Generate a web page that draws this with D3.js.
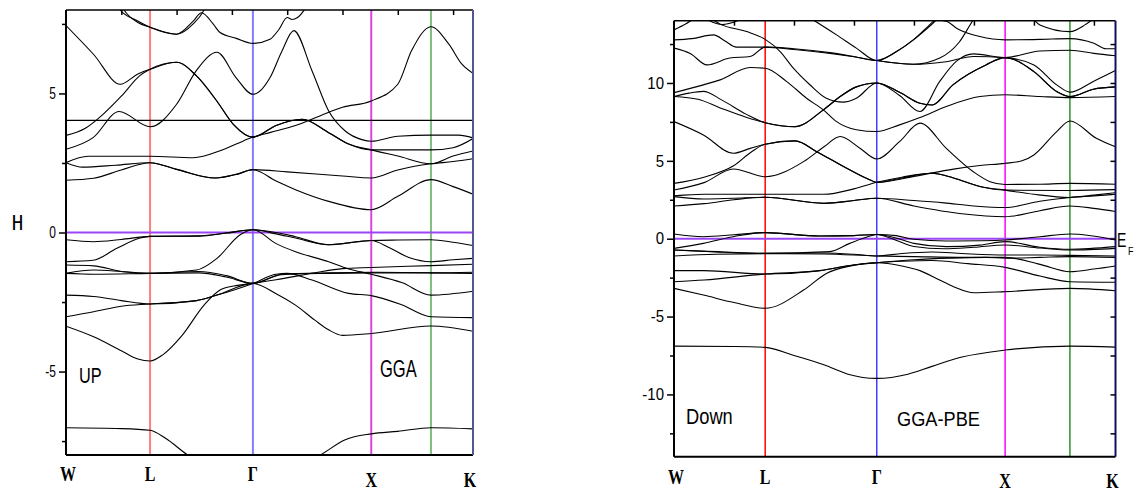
<!DOCTYPE html>
<html>
<head>
<meta charset="utf-8">
<script src="https://cdn.jsdelivr.net/npm/d3@7"></script>
<style>
body { margin: 0; background: #fff; }
svg { display: block; }
</style>
</head>
<body>
<svg id="chart" width="1147" height="493"></svg>
<script>
// k path: W - L - Gamma - X - (K') - K
var kMax = 7.36;
var kTicks = [1, 2, 3, 4, 5, 6, 7];
var symK = [0, 1.52, 3.38, 5.52, 6.6, 7.36];
var symLabels = ["W", "L", "\u0393", "X", "", "K"];

var upMajor = [-5, 0, 5];
var upMinor = [-7.5, -2.5, 2.5, 7.5];
var downMajor = [-10, -5, 0, 5, 10];
var downMinor = [-12.5, -7.5, -2.5, 2.5, 7.5, 12.5];

// spin up bands, [k, E]
var upBands = [
  [[0.8,8.6],[0.98,8.0],[1.28,7.62],[1.52,7.38],[2.0,7.13],[2.3,7.5],[2.48,7.95],[2.6,8.5]],
  [[0.9,8.6],[1.05,8.0],[1.3,7.55],[1.52,7.38],[2.0,7.13],[2.3,7.6],[2.45,7.9],[2.66,7.5],[2.78,7.2],[3.08,6.98],[3.38,6.80],[3.69,6.95],[3.85,7.3],[4.0,7.73],[4.09,7.66],[4.18,7.72],[4.3,7.98],[4.45,8.5]],
  [[0,7.44],[0.5,6.4],[0.98,5.33],[1.3,5.7],[1.52,5.87],[2.0,6.12],[2.36,5.63],[2.73,4.72],[3.03,3.88],[3.38,3.43],[3.8,3.85],[4.27,4.07],[4.75,3.59],[5.11,3.18],[5.52,2.97],[6.0,2.97],[6.6,2.97],[7.0,3.05],[7.36,3.38]],
  [[0,3.49],[0.35,3.75],[0.67,4.25],[1.0,4.9],[1.34,5.65],[1.52,5.87],[2.0,6.12],[2.36,5.63],[2.73,4.72],[3.03,3.88],[3.38,3.43],[3.8,3.85],[4.27,4.07],[4.75,3.59],[5.11,3.18],[5.52,2.97],[6.0,2.75],[6.6,2.47],[7.0,2.75],[7.36,2.93]],
  [[0,2.99],[0.49,3.41],[0.96,4.35],[1.52,3.80],[2.0,4.61],[2.36,5.83],[2.73,6.48],[3.07,5.58],[3.38,4.97],[3.54,5.15],[3.69,5.57],[3.9,6.5],[4.12,7.26],[4.45,5.81],[4.75,4.37],[5.05,3.65],[5.35,3.34],[5.52,3.28],[6.0,3.46],[6.6,3.50],[7.1,3.5],[7.36,3.40]],
  [[0,2.51],[0.4,2.74],[1.52,2.74],[2.3,2.69],[2.8,2.95],[3.1,3.2],[3.38,3.43],[3.7,3.6],[4.15,3.85],[4.6,4.2],[5.0,4.5],[5.52,4.73],[6.0,5.33],[6.25,6.54],[6.6,7.40],[6.92,6.78],[7.16,6.05],[7.36,5.72]],
  [[0,2.51],[0.3,2.35],[0.9,2.42],[1.52,2.51],[2.0,2.27],[2.7,1.96],[3.1,2.1],[3.38,2.26],[4.0,2.18],[5.0,2.03],[5.52,1.96],[6.0,2.25],[6.6,2.47],[7.0,2.55],[7.36,2.65]],
  [[0,1.88],[0.5,1.95],[1.0,2.25],[1.52,2.51],[2.0,2.27],[2.7,1.96],[3.1,2.1],[3.38,2.26],[3.8,1.85],[4.15,1.54],[4.75,1.12],[5.52,0.82],[6.0,1.3],[6.6,1.90],[7.0,1.65],[7.36,1.38]],
  [[0,4.03],[7.36,4.03]],
  [[0,-0.26],[0.5,-0.33],[1.0,-0.25],[1.52,-0.14],[2.4,-0.13],[2.9,-0.02],[3.38,0.10],[3.8,0.0],[4.15,-0.15],[4.75,-0.44],[5.2,-0.35],[5.52,-0.29],[6.0,-0.27],[6.6,-0.26],[7.0,-0.35],[7.36,-0.47]],
  [[0,-1.05],[0.49,-1.0],[0.92,-0.57],[1.34,-0.2],[1.52,-0.14],[2.4,-0.12],[2.9,-0.02],[3.38,0.10],[3.8,-0.05],[4.15,-0.2],[4.75,-0.44],[5.52,-0.29],[5.85,-0.55],[6.2,-0.9],[6.6,-1.05],[7.0,-0.98],[7.36,-0.93]],
  [[0,-1.17],[0.5,-1.2],[1.0,-1.4],[1.52,-1.47],[2.36,-1.35],[2.73,-0.93],[3.15,-0.08],[3.38,0.10],[3.8,-0.4],[4.15,-0.69],[4.75,-1.05],[5.1,-1.3],[5.52,-1.5],[6.07,-1.8],[6.6,-2.25],[7.36,-2.11]],
  [[0,-1.47],[0.5,-1.35],[1.0,-1.4],[1.52,-1.47],[2.4,-1.4],[2.9,-1.55],[3.38,-1.83],[3.9,-1.5],[4.75,-1.45],[5.52,-1.43],[6.6,-1.45],[7.36,-1.47]],
  [[0,-1.47],[0.5,-1.5],[1.52,-1.47],[2.4,-1.45],[2.9,-1.6],[3.38,-1.83],[3.9,-1.52],[4.75,-1.47],[5.52,-1.45],[6.6,-1.45],[7.36,-1.43]],
  [[0,-2.25],[0.5,-2.3],[1.0,-2.45],[1.52,-2.57],[2.36,-2.45],[2.73,-2.25],[3.38,-1.83],[3.8,-1.5],[4.0,-1.47],[4.45,-1.71],[5.11,-2.19],[5.52,-2.27],[6.07,-2.6],[6.6,-3.03],[7.36,-3.06]],
  [[0,-3.03],[0.5,-2.85],[1.0,-2.65],[1.52,-2.57],[2.36,-2.45],[2.73,-2.25],[3.38,-1.83],[3.8,-2.2],[4.15,-2.61],[4.5,-3.15],[4.75,-3.5],[5.0,-3.7],[5.52,-3.63],[6.6,-3.36],[7.36,-3.55]],
  [[0,-3.37],[0.5,-3.75],[1.0,-4.25],[1.3,-4.55],[1.52,-4.62],[1.75,-4.4],[2.1,-3.7],[2.5,-2.6],[2.8,-2.05],[3.1,-1.9],[3.38,-1.83],[3.8,-1.7],[4.5,-1.45],[5.0,-1.3],[5.52,-1.26],[6.6,-1.19],[7.36,-1.14]],
  [[0,-7.02],[1.0,-7.05],[1.52,-7.11],[1.8,-7.4],[2.2,-8.0],[2.8,-8.6],[3.38,-8.9],[4.0,-8.6],[4.6,-8.0],[5.05,-7.45],[5.52,-7.24],[6.0,-7.15],[6.6,-7.02],[7.36,-7.06]]
];

// spin down bands, [k, E]
var downBands = [
  [[0,13.41],[0.2,13.8],[0.35,14.15],[0.5,14.3],[0.65,14.05],[0.77,13.78],[1.21,13.3],[1.52,12.8],[1.77,12.02],[1.99,10.95],[2.27,9.87],[2.54,9.02],[2.82,8.77],[3.04,9.02],[3.38,10.0],[3.76,9.2],[4.1,8.17],[4.43,10.1],[4.71,11.4],[4.99,11.87],[5.52,11.63],[6.1,12.05],[6.6,12.1],[7.0,11.9],[7.36,11.75]],
  [[0,12.77],[0.3,12.85],[0.66,13.09],[0.85,12.7],[1.04,12.3],[1.52,12.3],[2.0,12.2],[2.6,11.95],[3.0,11.7],[3.38,11.44],[3.71,12.02],[3.99,12.77],[4.38,14.05],[4.6,14.8]],
  [[0,12.24],[0.27,11.9],[0.55,11.16],[0.93,11.6],[1.27,11.7],[1.52,12.3],[2.0,12.15],[2.6,11.9],[3.0,11.68],[3.38,11.44],[3.99,11.2],[4.43,11.6],[4.75,12.6],[4.99,14.05],[5.1,14.6]],
  [[1.9,15.0],[2.32,14.05],[2.71,13.09],[3.04,12.24],[3.38,11.44],[3.71,12.02],[3.99,12.77],[4.2,13.5],[4.38,14.05],[4.55,13.95],[4.71,13.52],[5.1,12.98],[5.52,12.77],[6.1,12.8],[6.6,12.85],[7.0,12.55],[7.2,12.2],[7.36,12.2]],
  [[3.38,11.44],[3.99,11.2],[4.5,11.35],[5.0,11.7],[5.52,11.63],[6.0,11.16],[6.38,9.88],[6.6,9.41],[6.99,10.1],[7.36,10.8]],
  [[0,9.13],[0.4,8.95],[0.77,8.4],[1.2,7.8],[1.52,7.45],[2.02,7.2],[2.49,8.27],[2.77,9.13],[3.04,9.75],[3.38,10.0],[3.76,9.4],[4.1,8.7],[4.3,8.59],[4.65,9.88],[5.2,11.16],[5.52,11.63],[6.0,10.73],[6.38,9.45],[6.6,9.13],[6.99,9.6],[7.36,9.75]],
  [[0,9.13],[0.25,9.35],[0.49,9.46],[0.8,8.9],[1.2,8.0],[1.52,7.45],[2.02,7.2],[2.49,8.27],[2.77,9.13],[3.04,9.75],[3.38,10.0],[3.76,9.4],[4.1,8.7],[4.3,8.59],[4.65,9.88],[5.2,11.16],[5.52,11.63],[6.0,10.73],[6.38,9.45],[6.6,9.13],[6.99,9.6],[7.36,9.75]],
  [[5.7,14.6],[6.0,14.05],[6.1,13.73],[6.6,13.3],[6.85,13.73],[6.97,14.05],[7.2,14.6]],
  [[0.4,14.4],[0.56,14.05],[0.8,13.75],[1.1,14.05],[1.3,14.4]],
  [[0,9.38],[0.49,9.88],[0.77,10.2],[1.27,10.99],[1.52,10.95],[1.88,10.09],[2.21,9.02],[2.49,8.27],[2.71,7.52],[3.04,7.0],[3.38,6.88],[3.76,7.31],[4.1,7.78],[4.54,8.49],[5.1,9.13],[5.52,9.24],[6.1,9.13],[6.6,9.06],[7.36,9.13]],
  [[0,7.52],[0.49,6.66],[0.99,5.49],[1.27,5.8],[1.52,6.07],[2.02,6.28],[2.38,5.59],[2.88,4.52],[3.27,3.77],[3.38,3.62],[3.8,3.9],[4.29,4.2],[4.66,3.9],[5.1,3.35],[5.52,3.12],[6.0,2.85],[6.6,2.65],[7.0,2.8],[7.36,2.95]],
  [[0,3.55],[0.5,3.95],[1.0,4.7],[1.3,5.6],[1.52,6.07],[2.02,6.28],[2.38,5.59],[2.88,4.52],[3.27,3.77],[3.38,3.62],[4.0,4.0],[4.66,4.47],[5.1,4.7],[5.52,4.84],[5.8,5.0],[6.0,5.38],[6.38,6.88],[6.6,7.56],[7.04,6.45],[7.36,5.9]],
  [[0,3.13],[0.5,3.6],[0.99,4.48],[1.52,3.98],[2.16,4.95],[2.5,5.9],[2.77,6.56],[3.1,5.81],[3.38,5.12],[3.76,6.23],[4.1,7.42],[4.54,5.8],[4.99,4.3],[5.27,3.66],[5.52,3.48],[6.1,3.5],[6.6,3.55],[7.36,3.5]],
  [[0,2.75],[0.5,2.85],[1.52,2.85],[2.5,2.85],[3.0,3.2],[3.38,3.62],[3.8,3.95],[4.29,4.2],[4.66,3.9],[5.1,3.35],[5.52,3.12],[6.6,3.1],[7.36,3.15]],
  [[0,2.7],[0.5,2.55],[1.0,2.6],[1.52,2.66],[2.5,2.27],[3.0,2.45],[3.38,2.6],[4.0,2.45],[4.5,2.3],[5.0,2.1],[5.52,2.0],[6.1,2.4],[6.6,2.65],[7.0,2.75],[7.36,2.85]],
  [[0,2.1],[0.5,2.25],[1.0,2.5],[1.52,2.66],[2.5,2.27],[3.0,2.45],[3.38,2.6],[4.0,2.1],[4.8,1.6],[5.52,1.41],[6.1,1.8],[6.6,2.1],[7.0,1.95],[7.36,1.75]],
  [[0,0.30],[0.49,0.13],[1.0,0.25],[1.52,0.39],[2.43,0.17],[3.0,0.2],[3.38,0.27],[3.7,0.2],[4.0,-0.04],[4.54,-0.15],[5.1,-0.13],[5.52,-0.08],[6.1,0.13],[6.6,0.30],[7.36,-0.08]],
  [[0,-0.62],[0.49,-0.3],[1.04,0.17],[1.52,0.39],[2.43,0.17],[3.0,0.2],[3.38,0.27],[3.7,0.05],[4.0,-0.3],[4.54,-0.51],[5.1,-0.41],[5.52,-0.19],[6.1,-0.55],[6.6,-0.68],[7.36,-0.51]],
  [[0,-0.73],[0.5,-0.8],[1.52,-0.94],[2.6,-0.83],[2.93,-0.30],[3.27,0.17],[3.38,0.27],[3.7,-0.1],[4.0,-0.5],[4.5,-0.65],[5.0,-0.55],[5.52,-0.40],[6.1,-0.6],[6.6,-0.73],[7.36,-0.62]],
  [[0,-0.73],[0.7,-0.85],[1.52,-0.94],[2.5,-0.92],[3.0,-1.0],[3.38,-1.11],[3.8,-0.95],[4.3,-0.85],[4.8,-0.95],[5.52,-1.05],[6.1,-1.05],[6.6,-1.07],[7.36,-1.11]],
  [[0,-1.11],[0.7,-1.0],[1.52,-0.96],[2.5,-0.98],[3.38,-1.11],[4.0,-1.15],[4.8,-1.2],[5.52,-1.20],[6.1,-1.65],[6.6,-2.12],[7.0,-1.95],[7.36,-1.75]],
  [[0,-2.05],[0.5,-2.05],[1.52,-2.27],[2.43,-2.05],[2.99,-1.69],[3.38,-1.54],[3.8,-1.45],[4.3,-1.4],[4.9,-1.6],[5.52,-1.84],[6.1,-2.4],[6.6,-2.76],[7.36,-2.80]],
  [[0,-2.76],[0.5,-2.65],[1.52,-2.27],[2.43,-2.05],[2.99,-1.69],[3.38,-1.54],[4.0,-1.35],[4.6,-1.25],[5.2,-1.2],[5.52,-1.25],[6.1,-1.2],[6.6,-1.15],[7.36,-1.2]],
  [[0,-3.19],[0.49,-3.62],[1.0,-4.1],[1.52,-4.47],[2.16,-3.3],[2.54,-2.23],[2.93,-1.76],[3.38,-1.54],[3.8,-1.75],[4.1,-2.05],[4.4,-2.6],[4.66,-3.08],[5.0,-3.47],[5.52,-3.40],[6.6,-3.19],[7.36,-3.34]],
  [[0,-6.9],[1.0,-6.92],[1.52,-6.98],[2.0,-7.5],[2.5,-8.1],[2.9,-8.7],[3.38,-8.97],[3.9,-8.7],[4.3,-8.2],[4.8,-7.6],[5.52,-7.15],[6.6,-6.9],[7.36,-6.96]]
];

var svg = d3.select("#chart");

function stretchText(g, x, y, str, size, sy, family, weight, anchor) {
  return g.append("text")
    .attr("transform", "translate(" + x + "," + y + ") scale(1," + sy + ")")
    .attr("text-anchor", anchor || "start")
    .style("font-family", family)
    .style("font-size", size + "px")
    .style("font-weight", weight || "normal")
    .text(str);
}

function drawPanel(p) {
  var g = svg.append("g");
  var x = d3.scaleLinear().domain([0, kMax]).range([p.left, p.right]);
  var y = d3.scaleLinear().domain(p.yDomain).range([p.bottom, p.top]);

  svg.append("clipPath").attr("id", "clip-" + p.id)
    .append("rect")
    .attr("x", p.left).attr("y", p.top)
    .attr("width", p.right - p.left).attr("height", p.bottom - p.top);

  var plot = g.append("g").attr("clip-path", "url(#clip-" + p.id + ")");

  // high symmetry lines
  plot.selectAll("line.sym")
    .data(symK.slice(1, 5))
    .enter().append("line")
    .attr("x1", function(d) { return x(d); })
    .attr("x2", function(d) { return x(d); })
    .attr("y1", p.top).attr("y2", p.bottom)
    .style("stroke", function(d, i) { return p.symColors[i]; })
    .style("stroke-width", p.symWidth);

  // fermi level
  plot.append("line")
    .attr("x1", p.left).attr("x2", p.right)
    .attr("y1", y(0)).attr("y2", y(0))
    .style("stroke", "#9d45f5")
    .style("stroke-width", 2);

  var line = d3.line()
    .x(function(d) { return x(d[0]); })
    .y(function(d) { return y(d[1]); })
    .curve(d3.curveMonotoneX);

  plot.selectAll("path.band")
    .data(p.bands)
    .enter().append("path")
    .attr("class", "band")
    .attr("d", line)
    .style("fill", "none")
    .style("stroke", "#000")
    .style("stroke-width", 1.1);

  // frame
  g.append("line").attr("x1", p.left).attr("x2", p.right).attr("y1", p.top).attr("y2", p.top)
    .style("stroke", "#000").style("stroke-width", 1.5);
  g.append("line").attr("x1", p.left).attr("x2", p.right).attr("y1", p.bottom).attr("y2", p.bottom)
    .style("stroke", "#000").style("stroke-width", 2);
  g.append("line").attr("x1", p.left).attr("x2", p.left).attr("y1", p.top).attr("y2", p.bottom)
    .style("stroke", "#000").style("stroke-width", 2);
  g.append("line").attr("x1", p.right).attr("x2", p.right).attr("y1", p.top).attr("y2", p.bottom)
    .style("stroke", p.kColor).style("stroke-width", 2);

  // y axis, major and minor
  var yMaj = g.append("g").attr("transform", "translate(" + p.left + ",0)")
    .call(d3.axisLeft(y).tickValues(p.yMajor).tickSize(7).tickPadding(3)
      .tickFormat(function(d) { return String(d); }));
  var yMin = g.append("g").attr("transform", "translate(" + p.left + ",0)")
    .call(d3.axisLeft(y).tickValues(p.yMinor).tickSize(4).tickFormat(""));
  [yMaj, yMin].forEach(function(a) {
    a.select(".domain").remove();
    a.selectAll("line").style("stroke-width", 1.5);
  });
  yMaj.selectAll("text")
    .style("font-family", "Liberation Sans, Arial, sans-serif")
    .style("font-size", p.tickFont + "px")
    .style("fill", "#000")
    .attr("transform", "scale(1," + p.stretch + ")");

  if (p.rightTicks) {
    var yR = g.append("g").attr("transform", "translate(" + p.right + ",0)")
      .call(d3.axisRight(y).tickValues(p.yMajor.concat(p.yMinor)).tickSize(-5).tickFormat(""));
    yR.select(".domain").remove();
    yR.selectAll("line").style("stroke-width", 1.5);
  }

  // ticks along the top edge
  var xt = g.append("g").attr("transform", "translate(0," + p.top + ")")
    .call(d3.axisTop(x).tickValues(kTicks).tickSize(-5).tickFormat(""));
  xt.select(".domain").remove();
  xt.selectAll("line").style("stroke-width", 1.5);

  // symmetry point labels
  symLabels.forEach(function(s, i) {
    if (!s) return;
    var dx = i === 0 ? 2 : (i === 5 ? -3 : 0);
    var base = (i >= 3) ? p.labelLow : p.labelHigh;
    stretchText(g, x(symK[i]) + dx, base, s, 16, 1.35,
      "Liberation Serif, Times New Roman, serif", "bold", "middle");
  });

  return { g: g, x: x, y: y };
}

var up = drawPanel({
  id: "up", left: 66, right: 473, top: 10, bottom: 455,
  yDomain: [-8, 8], yMajor: upMajor, yMinor: upMinor,
  bands: upBands,
  symColors: ["#ff7f7f", "#7f7fff", "#dd44dd", "#7fbf7f"], symWidth: 2,
  kColor: "#55558f", rightTicks: false,
  tickFont: 12, stretch: 1.35, labelHigh: 481, labelLow: 487
});

var down = drawPanel({
  id: "down", left: 674, right: 1115.5, top: 20.7, bottom: 456.7,
  yDomain: [-14, 14], yMajor: downMajor, yMinor: downMinor,
  bands: downBands,
  symColors: ["#ff0000", "#3f3fff", "#ff00ff", "#2f8f2f"], symWidth: 1.5,
  kColor: "#101060", rightTicks: true,
  tickFont: 15, stretch: 1.1, labelHigh: 484, labelLow: 488
});

// panel annotations
var sans = "Liberation Sans, Arial, sans-serif";
stretchText(up.g, 79, 383, "UP", 16.3, 1.4, sans);
stretchText(up.g, 380, 377, "GGA", 16.5, 1.4, sans);
stretchText(down.g, 686, 424, "Down", 18.3, 1.2, sans);
stretchText(down.g, 897, 426, "GGA-PBE", 18.2, 1.15, sans);
stretchText(down.g, 1117, 247, "E", 14, 1.4, sans);
stretchText(down.g, 1128, 255, "F", 9, 1.3, sans);
stretchText(up.g, 17.5, 230, "H", 20, 1.1, "Liberation Mono, monospace", "normal", "middle");
</script>
</body>
</html>
